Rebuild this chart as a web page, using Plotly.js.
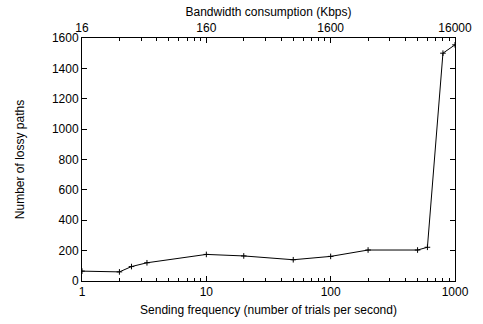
<!DOCTYPE html>
<html><head><meta charset="utf-8">
<script src="https://cdn.plot.ly/plotly-3.0.1.min.js"></script>
<style>html,body{margin:0;padding:0;background:#fff}</style>
</head><body>
<div id="chart" style="width:483px;height:324px"></div>
<script>
const frequency = [1, 2, 2.5, 3.33, 10, 20, 50, 100, 200, 500, 600, 800, 1000];
const lossyPaths = [65, 60, 95, 120, 175, 165, 140, 162, 204, 204, 222, 1500, 1555];
const bottomTickVals = [1, 10, 100, 1000];
const bottomTickText = ['1', '10', '100', '1000'];
const topTickText = ['16', '160', '1600', '16000'];
const yTickVals = [0, 200, 400, 600, 800, 1000, 1200, 1400, 1600];

const fnt = {family: 'Liberation Sans, Arial, sans-serif', size: 12, color: '#000'};

const traces = [
  {x: frequency, y: lossyPaths, type: 'scatter', mode: 'lines+markers',
   line: {color: '#000', width: 1}, marker: {symbol: 'cross-thin', size: 4, line: {color: '#000', width: 1}},
   xaxis: 'x', yaxis: 'y', hoverinfo: 'skip'},
  {x: [1, 1000], y: [0, 0], type: 'scatter', mode: 'markers', marker: {opacity: 0},
   xaxis: 'x2', yaxis: 'y', hoverinfo: 'skip'}
];

const layout = {
  width: 483, height: 324,
  margin: {l: 82, r: 28, t: 38, b: 43},
  paper_bgcolor: '#fff', plot_bgcolor: '#fff',
  showlegend: false,
  font: fnt,
  xaxis: {
    type: 'log', range: [0, 3], tickvals: bottomTickVals, ticktext: bottomTickText,
    ticks: 'inside', ticklen: 5, tickcolor: '#000', tickwidth: 1,
    showline: true, linecolor: '#000', linewidth: 1, showgrid: false, zeroline: false,
    minor: {ticks: 'inside', ticklen: 3, tickcolor: '#000', showgrid: false, dtick: 'D1'},
    tickfont: fnt,
    title: {text: 'Sending frequency (number of trials per second)', font: fnt, standoff: 7}
  },
  xaxis2: {
    type: 'log', range: [0, 3], overlaying: 'x', side: 'top', anchor: 'y',
    tickvals: bottomTickVals, ticktext: topTickText,
    ticks: 'inside', ticklen: 5, tickcolor: '#000', tickwidth: 1,
    showline: true, linecolor: '#000', linewidth: 1, showgrid: false, zeroline: false,
    minor: {ticks: 'inside', ticklen: 3, tickcolor: '#000', showgrid: false, dtick: 'D1'},
    tickfont: fnt,
    title: {text: 'Bandwidth consumption (Kbps)', font: fnt, standoff: 2}
  },
  yaxis: {
    range: [0, 1600], tickvals: yTickVals,
    ticks: 'inside', ticklen: 5, tickcolor: '#000', tickwidth: 1,
    showline: true, linecolor: '#000', linewidth: 1, mirror: 'ticks', showgrid: false, zeroline: false,
    tickfont: fnt,
    title: {text: 'Number of lossy paths', font: fnt, standoff: 24}
  }
};

Plotly.newPlot('chart', traces, layout, {displayModeBar: false, staticPlot: true});
</script>
</body></html>
